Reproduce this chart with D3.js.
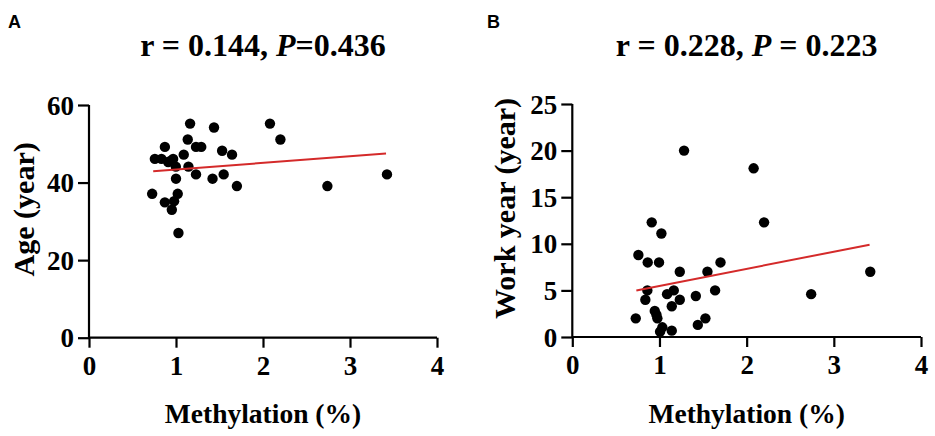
<!DOCTYPE html>
<html>
<head>
<meta charset="utf-8">
<script src="https://cdn.jsdelivr.net/npm/d3@7"></script>
<style>
  html, body { margin: 0; padding: 0; background: #fff; }
  svg { display: block; }
</style>
</head>
<body>
<svg id="chart" width="935" height="436"></svg>
<script>
// ---------- Data ----------
const methylationA = [0.726,0.757,0.833,0.872,0.872,0.910,0.937,0.967,0.978,0.952,0.998,1.000,1.020,1.028,1.089,1.135,1.162,1.143,1.230,1.290,1.230,1.437,1.420,1.530,1.548,1.644,1.700,2.080,2.200,2.740,3.425];
const ageA         = [37.1, 46.1, 46.1, 49.2, 34.9, 45.3, 45.6, 46.1, 35.2, 33.0, 44.1, 41.0, 37.1, 27.0, 47.2, 51.1, 55.2, 44.1, 49.2, 49.2, 42.1, 54.2, 41.0, 48.2, 42.1, 47.2, 39.1, 55.2, 51.1, 39.1, 42.1];
const fitA = [[0.738, 42.9], [3.414, 47.5]];

const methylationB = [0.728,0.758,0.865,0.861,0.838,0.911,0.946,0.965,0.976,0.995,1.022,1.007,1.033,1.087,1.141,1.141,1.164,1.233,1.233,1.282,1.417,1.440,1.527,1.550,1.638,1.700,2.080,2.200,2.740,3.418];
const workYearB    = [2.0, 8.8, 8.0, 5.0, 4.0, 12.3, 2.8, 2.4, 2.0, 8.0, 11.1, 0.57, 1.04, 4.6, 0.68, 3.3, 5.0, 7.0, 4.0, 20.0, 4.4, 1.3, 2.0, 7.0, 5.0, 8.0, 18.1, 12.3, 4.6, 7.0];
const fitB = [[0.735, 5.0], [3.41, 9.9]];

const xTicks = [0, 1, 2, 3, 4];
const yTicksA = [0, 20, 40, 60];
const yTicksB = [0, 5, 10, 15, 20, 25];

const panels = [
  { label: "A", title: ["r = 0.144, ", "P", "=0.436"], yLabel: "Age (year)",
    xs: methylationA, ys: ageA, fit: fitA, yTicks: yTicksA, yMax: 60,
    x0: 89, x1: 437, y0: 337.7, y1: 105, labelX: 8, yLabelX: 24 },
  { label: "B", title: ["r = 0.228, ", "P", " = 0.223"], yLabel: "Work year (year)",
    xs: methylationB, ys: workYearB, fit: fitB, yTicks: yTicksB, yMax: 25,
    x0: 572.3, x1: 921, y0: 337, y1: 104, labelX: 487, yLabelX: 505 }
];

const svg = d3.select("#chart");
const serif = "'Liberation Serif', 'Times New Roman', 'DejaVu Serif', serif";

panels.forEach(p => {
  const x = d3.scaleLinear().domain([0, 4]).range([p.x0, p.x1]);
  const y = d3.scaleLinear().domain([0, p.yMax]).range([p.y0, p.y1]);
  const g = svg.append("g");

  // panel letter
  g.append("text").attr("x", p.labelX).attr("y", 27.5)
    .attr("font-family", "'Liberation Sans', Arial, sans-serif")
    .attr("font-weight", "bold").attr("font-size", 18).text(p.label);

  // title
  const cx = (p.x0 + p.x1) / 2;
  const t = g.append("text").attr("x", cx).attr("y", 56)
    .attr("text-anchor", "middle").attr("font-family", serif)
    .attr("font-weight", "bold").attr("font-size", 32);
  t.append("tspan").text(p.title[0]);
  t.append("tspan").attr("font-style", "italic").text(p.title[1]);
  t.append("tspan").text(p.title[2]);

  // axes
  const xAxis = d3.axisBottom(x).tickValues(xTicks).tickSize(10).tickPadding(6).tickFormat(d3.format("d"));
  const yAxis = d3.axisLeft(y).tickValues(p.yTicks).tickSize(11).tickPadding(4).tickFormat(d3.format("d"));

  const gx = g.append("g").attr("transform", `translate(0,${p.y0})`).call(xAxis);
  const gy = g.append("g").attr("transform", `translate(${p.x0},0)`).call(yAxis);

  [gx, gy].forEach(a => {
    a.select(".domain").attr("stroke", "#000").attr("stroke-width", 2.2)
      .attr("d", a === gx ? `M${p.x0},0H${p.x1}` : `M0,${p.y0}V${p.y1}`);
    a.selectAll(".tick line").attr("stroke", "#000").attr("stroke-width", 2.2);
    a.selectAll(".tick text").attr("fill", "#000")
      .attr("font-family", serif).attr("font-weight", "bold").attr("font-size", 27);
  });
  gx.selectAll(".tick text").attr("dy", "0.78em");
  gy.selectAll(".tick text").attr("dy", "0.34em");

  // axis titles
  g.append("text").attr("x", cx).attr("y", 423).attr("text-anchor", "middle")
    .attr("font-family", serif).attr("font-weight", "bold").attr("font-size", 27.5)
    .text("Methylation (%)");
  g.append("text")
    .attr("transform", `translate(${p.yLabelX + 10},${(p.y0 + p.y1) / 2 - 12}) rotate(-90)`)
    .attr("text-anchor", "middle")
    .attr("font-family", serif).attr("font-weight", "bold").attr("font-size", 30)
    .text(p.yLabel);

  // points
  const pts = p.xs.map((v, i) => [v, p.ys[i]]);
  g.append("g").selectAll("circle").data(pts).join("circle")
    .attr("cx", d => x(d[0])).attr("cy", d => y(d[1])).attr("r", 5.2).attr("fill", "#000");

  // regression line
  g.append("path").datum(p.fit)
    .attr("d", d3.line().x(d => x(d[0])).y(d => y(d[1])))
    .attr("stroke", "#d42a2a").attr("stroke-width", 2).attr("fill", "none");
});
</script>
</body>
</html>
